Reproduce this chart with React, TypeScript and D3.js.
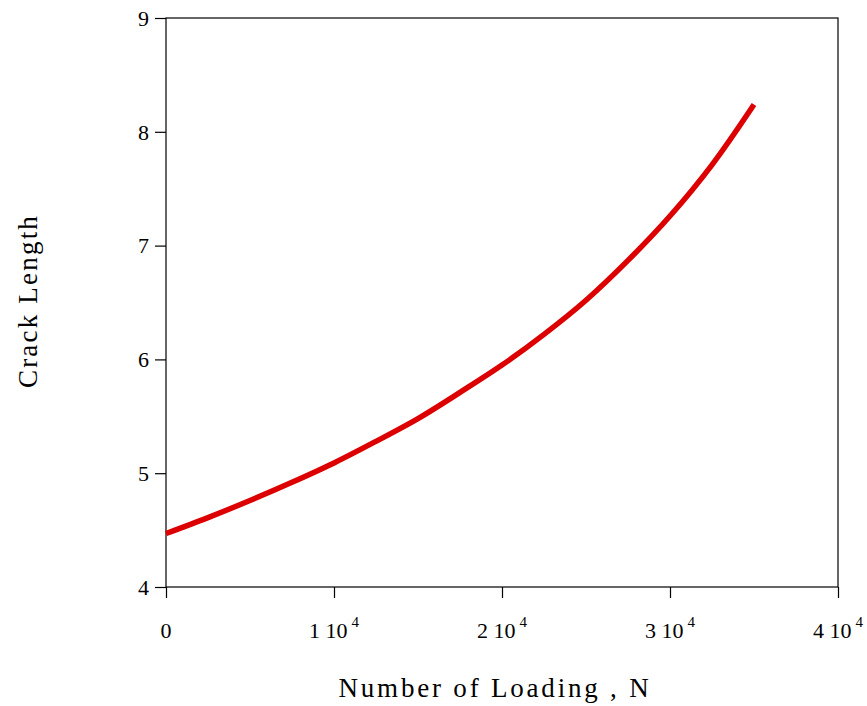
import { useEffect, useRef } from "react";
import * as d3 from "d3";

const loading = [0, 2500, 5000, 7500, 10000, 12500, 15000, 17500, 20000, 22500, 25000, 27500, 30000, 32500, 35000];
const crack = [4.47, 4.61, 4.76, 4.92, 5.09, 5.28, 5.48, 5.71, 5.95, 6.22, 6.52, 6.87, 7.26, 7.71, 8.24];
const xTicks = [0, 10000, 20000, 30000, 40000];
const yTicks = [4, 5, 6, 7, 8, 9];

const App = () => {
  const ref = useRef<SVGSVGElement>(null);

  useEffect(() => {
    document.body.style.margin = "0";
    if (!ref.current) return;
    const width = 867;
    const height = 706;
    const margin = { top: 18, right: 29, bottom: 119, left: 166 };
    const svg = d3.select(ref.current);
    svg.selectAll("*").remove();

    const font = "'Liberation Serif', 'Times New Roman', serif";
    const data = loading.map((n, i) => ({ x: n, y: crack[i] }));

    const xScale = d3.scaleLinear().domain([0, 40000]).range([margin.left, width - margin.right]);
    const yScale = d3.scaleLinear().domain([4, 9]).range([height - margin.bottom, margin.top]);

    // frame
    svg
      .append("rect")
      .attr("x", xScale(0))
      .attr("y", yScale(9))
      .attr("width", xScale(40000) - xScale(0))
      .attr("height", yScale(4) - yScale(9))
      .attr("fill", "none")
      .attr("stroke", "#000")
      .attr("stroke-width", 1.2);

    const xAxis = d3.axisBottom(xScale).tickValues(xTicks).tickSize(11).tickFormat(() => "");
    const xAxisGroup = svg.append("g").attr("transform", `translate(0,${yScale(4)})`).call(xAxis);
    xAxisGroup.select(".domain").remove();
    xAxisGroup.selectAll("line").attr("stroke", "#000").attr("stroke-width", 1.2);

    const yAxis = d3.axisLeft(yScale).tickValues(yTicks).tickSize(11).tickFormat(() => "");
    const yAxisGroup = svg.append("g").attr("transform", `translate(${xScale(0)},0)`).call(yAxis);
    yAxisGroup.select(".domain").remove();
    yAxisGroup.selectAll("line").attr("stroke", "#000").attr("stroke-width", 1.2);

    // x tick labels with superscript
    xTicks.forEach((t) => {
      const txt = svg
        .append("text")
        .attr("x", xScale(t))
        .attr("y", 638)
        .attr("text-anchor", "middle")
        .attr("font-family", font)
        .attr("font-size", 22)
        .attr("fill", "#000");
      if (t === 0) {
        txt.text("0");
      } else {
        txt.append("tspan").text(`${t / 10000} 10`);
        txt.append("tspan").attr("dx", 4).attr("dy", -11).attr("font-size", 15).text("4");
      }
    });

    yTicks.forEach((t) => {
      svg
        .append("text")
        .attr("x", 149)
        .attr("y", yScale(t))
        .attr("dy", "0.35em")
        .attr("text-anchor", "end")
        .attr("font-family", font)
        .attr("font-size", 22)
        .attr("fill", "#000")
        .text(t);
    });

    const lineGenerator = d3
      .line<{ x: number; y: number }>()
      .x((d) => xScale(d.x))
      .y((d) => yScale(d.y))
      .curve(d3.curveCatmullRom);

    svg
      .append("path")
      .attr("d", lineGenerator(data))
      .attr("fill", "none")
      .attr("stroke", "#dd0000")
      .attr("stroke-width", 5.5);

    svg
      .append("text")
      .attr("x", 495)
      .attr("y", 697)
      .attr("text-anchor", "middle")
      .attr("font-family", font)
      .attr("font-size", 27)
      .attr("letter-spacing", 2.8)
      .text("Number of Loading , N");

    svg
      .append("text")
      .attr("transform", `translate(37,301) rotate(-90)`)
      .attr("text-anchor", "middle")
      .attr("font-family", font)
      .attr("font-size", 27)
      .attr("letter-spacing", 2.2)
      .text("Crack Length");
  }, []);

  return <svg ref={ref} width={867} height={706} style={{ display: "block", background: "#fff" }}></svg>;
};

export default App;
